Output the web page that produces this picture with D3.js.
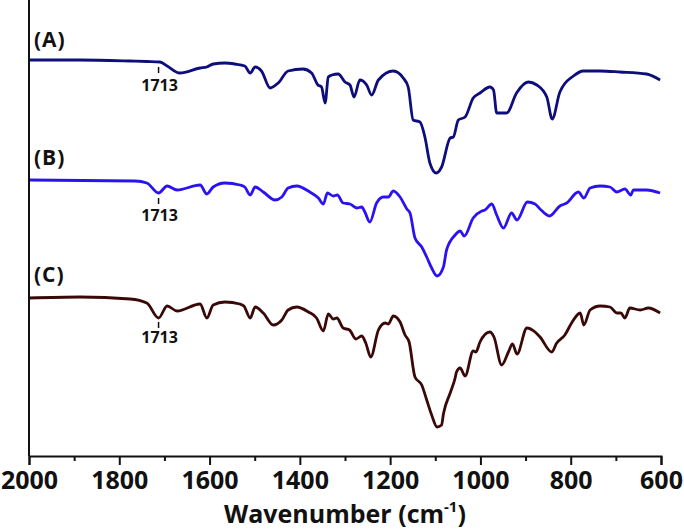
<!DOCTYPE html>
<html>
<head>
<meta charset="utf-8">
<script src="https://cdn.jsdelivr.net/npm/d3@7"></script>
<style>
  body { margin: 0; background: #fff; }
  text { font-family: "Open Sans", "DejaVu Sans", sans-serif; font-weight: bold; }
</style>
</head>
<body>
<div id="chart"></div>
<script>
// wavenumber (cm-1) and offset transmittance (a.u.)
const wavesA = [2000, 1887, 1776, 1739, 1710, 1694, 1666, 1621, 1606, 1592, 1566, 1544, 1522, 1510, 1499, 1485, 1466, 1448, 1426, 1393, 1374, 1360, 1352, 1344, 1337, 1329, 1315, 1300, 1289, 1280, 1267, 1252, 1241, 1226, 1193, 1171, 1160, 1149, 1134, 1123, 1112, 1098, 1086, 1067, 1060, 1049, 1034, 1016, 1001, 979, 971, 964, 942, 920, 894, 875, 853, 841, 824, 794, 772, 735, 691, 632, 602];
const valuesA = [396, 396, 395, 394.5, 394, 390, 383, 388, 389, 392, 393, 392, 390, 383, 389, 385, 368, 373, 385, 387, 383, 371, 369, 353, 379, 381, 382, 374, 371, 359, 376, 371, 361, 376, 385, 378, 369, 336, 334, 319, 293, 283, 289, 318, 319, 336, 339, 358, 363, 369, 366, 343, 343, 363, 374, 371, 359, 337, 364, 380, 385, 385, 384, 382, 376];

const wavesB = [2000, 1765, 1739, 1713, 1694, 1672, 1621, 1606, 1592, 1566, 1533, 1522, 1510, 1499, 1481, 1455, 1440, 1426, 1407, 1378, 1359, 1348, 1339, 1326, 1317, 1304, 1289, 1274, 1263, 1256, 1245, 1230, 1215, 1204, 1193, 1178, 1163, 1156, 1145, 1130, 1119, 1108, 1096, 1082, 1075, 1056, 1045, 1036, 1016, 997, 990, 975, 964, 949, 931, 919, 896, 879, 868, 847, 824, 809, 783, 771, 757, 735, 713, 698, 680, 667, 661, 632, 602];
const valuesB = [276, 275, 273, 263, 270, 266, 271, 262, 269, 273, 271, 269, 261, 269, 264, 256, 259, 268, 270, 264, 258, 252, 263, 260, 261, 253, 252, 248, 249, 244, 234, 253, 259, 259, 265, 259, 247, 243, 218, 209, 199, 188, 180, 189, 206, 221, 225, 220, 238, 245, 246, 252, 241, 228, 243, 236, 254, 252, 247, 240, 250, 253, 264, 258, 268, 270, 269, 264, 267, 261, 266, 266, 263];

const wavesC = [2000, 1887, 1776, 1739, 1713, 1694, 1672, 1621, 1606, 1592, 1566, 1533, 1524, 1510, 1499, 1481, 1459, 1440, 1426, 1407, 1381, 1363, 1348, 1337, 1326, 1318, 1304, 1290, 1276, 1263, 1254, 1243, 1226, 1211, 1204, 1193, 1178, 1167, 1158, 1145, 1130, 1119, 1108, 1096, 1086, 1082, 1067, 1056, 1053, 1045, 1034, 1016, 1010, 1001, 979, 970, 953, 938, 929, 919, 897, 879, 868, 842, 831, 813, 798, 779, 771, 757, 735, 713, 698, 689, 680, 669, 646, 628, 602];
const valuesC = [158, 159, 157, 153, 138, 150, 145, 152, 138, 151, 154, 152, 150, 138, 149, 143, 131, 136, 146, 149, 144, 138, 125, 142, 137, 138, 128, 126, 117, 120, 113, 99, 126, 133, 132, 140, 134, 121, 114, 79, 71, 56, 41, 29, 31, 42, 63, 78, 84, 88, 80, 105, 104, 114, 124, 119, 91, 104, 112, 102, 128, 124, 119, 104, 113, 121, 133, 143, 131, 146, 150, 149, 143, 143, 138, 148, 146, 148, 143];

const seriesNames = ["(A)", "(B)", "(C)"];
const seriesColors = ["#0d0d7c", "#2b12f2", "#3b0808"];
const labelValues = [409.5, 291.5, 174.5];
// 1713 marker: tick top, tick bottom, text baseline (a.u.)
const markTop = [389, 258, 134];
const markBottom = [383, 252, 128];
const markText = [365.5, 235.5, 113];
const markWave = 1713;

const xTicks = [2000, 1800, 1600, 1400, 1200, 1000, 800, 600];
const xMinor = [1900, 1700, 1500, 1300, 1100, 900, 700];

const W = 684, H = 530;
const margin = { left: 29, top: 0, right: 23, bottom: 74 };
const width = W - margin.left - margin.right;
const height = H - margin.top - margin.bottom;

const svg = d3.select("#chart").append("svg")
  .attr("width", W)
  .attr("height", H);

const g = svg.append("g")
  .attr("transform", "translate(" + margin.left + "," + margin.top + ")");

const x = d3.scaleLinear().domain([2000, 600]).range([0, width]);
const y = d3.scaleLinear().domain([0, height]).range([height, 0]);

const series = [
  { w: wavesA, v: valuesA },
  { w: wavesB, v: valuesB },
  { w: wavesC, v: valuesC }
];

const line = d3.line()
  .x(d => x(d[0]))
  .y(d => y(d[1]))
  .curve(d3.curveMonotoneX);

series.forEach((s, i) => {
  const pts = s.w.map((w, j) => [w, s.v[j]]);
  g.append("path")
    .attr("d", line(pts))
    .attr("fill", "none")
    .attr("stroke", seriesColors[i])
    .attr("stroke-width", 2.8)
    .attr("stroke-linejoin", "round");

  g.append("text")
    .attr("x", 5)
    .attr("y", y(labelValues[i]))
    .attr("font-size", 21)
    .attr("letter-spacing", 1)
    .attr("fill", "#111")
    .text(seriesNames[i]);

  g.append("line")
    .attr("x1", x(markWave)).attr("x2", x(markWave))
    .attr("y1", y(markTop[i])).attr("y2", y(markBottom[i]))
    .attr("stroke", "#111")
    .attr("stroke-width", 1.5);

  g.append("text")
    .attr("x", x(markWave) + 1)
    .attr("y", y(markText[i]))
    .attr("text-anchor", "middle")
    .attr("font-size", 16)
    .attr("fill", "#111")
    .text(markWave);
});

// bottom axis
const xAxis = d3.axisBottom(x)
  .tickValues(xTicks)
  .tickSize(9)
  .tickPadding(6)
  .tickFormat(d3.format("d"));

const ax = g.append("g")
  .attr("transform", "translate(0," + height + ")")
  .call(xAxis);
ax.select(".domain").attr("stroke", "#111").attr("stroke-width", 2);
ax.selectAll(".tick line").attr("stroke", "#111").attr("stroke-width", 2);
ax.selectAll(".tick text")
  .attr("font-size", 25)
  .attr("font-family", "'Open Sans', sans-serif")
  .attr("font-weight", "bold")
  .attr("fill", "#111");

const axMinor = g.append("g")
  .attr("transform", "translate(0," + height + ")")
  .call(d3.axisBottom(x).tickValues(xMinor).tickSize(5).tickFormat(""));
axMinor.select(".domain").remove();
axMinor.selectAll(".tick line").attr("stroke", "#111").attr("stroke-width", 2);

// left axis line only
g.append("line")
  .attr("x1", 0).attr("x2", 0)
  .attr("y1", 0).attr("y2", height)
  .attr("stroke", "#111")
  .attr("stroke-width", 2);

// axis title
const title = svg.append("text")
  .attr("x", margin.left + width / 2)
  .attr("y", 523)
  .attr("text-anchor", "middle")
  .attr("font-size", 25)
  .attr("fill", "#111");
title.append("tspan").text("Wavenumber (cm");
title.append("tspan").attr("font-size", 15).attr("dy", -11).text("-1");
title.append("tspan").attr("dy", 11).text(")");
</script>
</body>
</html>
